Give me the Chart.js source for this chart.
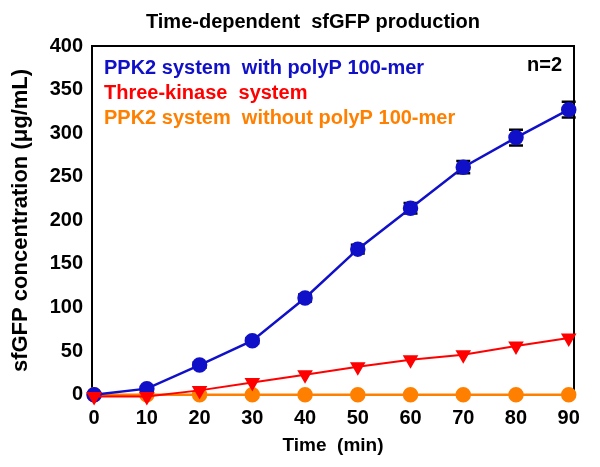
<!DOCTYPE html>
<html>
<head>
<meta charset="utf-8">
<script src="https://cdn.jsdelivr.net/npm/chart.js"></script>
<style>
html,body{margin:0;padding:0;background:#fff;}
#wrap{width:600px;height:467px;position:relative;}
</style>
</head>
<body>
<div id="wrap"><canvas id="c" width="600" height="467"></canvas></div>
<script>
const times = [0, 10, 20, 30, 40, 50, 60, 70, 80, 90];
const ppk2With = [0, 7, 34, 62, 111, 167, 214, 261, 295, 327];
const ppk2WithErr = [1, 2, 3, 3, 4, 5, 6, 7, 9, 9];
const threeKinase = [-2, -2, 5, 14, 23, 32, 40, 46, 56, 65];
const ppk2Without = [0, 0, 0, 0, 0, 0, 0, 0, 0, 0];
const yTicks = [0, 50, 100, 150, 200, 250, 300, 350, 400];
const xTicks = [0, 10, 20, 30, 40, 50, 60, 70, 80, 90];
const seriesNames = ['PPK2 system  with polyP 100-mer', 'Three-kinase  system', 'PPK2 system  without polyP 100-mer'];
const colors = ['#1010C8', '#FF0000', '#FF8000'];

const FONT = '"Liberation Sans", Arial, sans-serif';
const pts = arr => arr.map((v, i) => ({x: times[i], y: v}));

const overlay = {
  id: 'overlay',
  beforeDatasetsDraw(chart) {
    const ctx = chart.ctx, xs = chart.scales.x, ys = chart.scales.y, a = chart.chartArea;
    ctx.save();
    ctx.strokeStyle = '#000';
    ctx.lineWidth = 2;
    ctx.strokeRect(a.left, a.top, a.right - a.left, a.bottom - a.top);
    ctx.lineWidth = 2.5;
    times.forEach((t, i) => {
      const e = ppk2WithErr[i];
      const px = xs.getPixelForValue(t);
      const y1 = ys.getPixelForValue(ppk2With[i] + e);
      const y2 = ys.getPixelForValue(ppk2With[i] - e);
      ctx.beginPath();
      ctx.moveTo(px, y1); ctx.lineTo(px, y2);
      ctx.moveTo(px - 7, y1); ctx.lineTo(px + 7, y1);
      ctx.moveTo(px - 7, y2); ctx.lineTo(px + 7, y2);
      ctx.stroke();
    });
    ctx.restore();
  },
  afterDraw(chart) {
    const ctx = chart.ctx, a = chart.chartArea;
    ctx.save();
    ctx.fillStyle = '#000';
    ctx.font = 'bold 20px ' + FONT;
    ctx.textAlign = 'center';
    ctx.textBaseline = 'middle';
    ctx.fillText('Time-dependent  sfGFP production', 313, 22);
    ctx.textAlign = 'left';
    ctx.font = 'bold 20px ' + FONT;
    const ly = [68, 93, 118];
    seriesNames.forEach((n, i) => {
      ctx.fillStyle = colors[i];
      ctx.fillText(n, a.left + 12, ly[i]);
    });
    ctx.fillStyle = '#000';
    ctx.textAlign = 'right';
    ctx.fillText('n=2', a.right - 12, 65);
    ctx.restore();
  }
};

new Chart(document.getElementById('c'), {
  type: 'line',
  data: {
    datasets: [
      {label: seriesNames[0], data: pts(ppk2With), borderColor: colors[0], backgroundColor: colors[0],
        borderWidth: 2.5, pointRadius: 6.5, pointStyle: 'circle', order: 2},
      {label: seriesNames[1], data: pts(threeKinase), borderColor: colors[1], backgroundColor: colors[1],
        borderWidth: 2, pointRadius: 7, pointStyle: 'triangle', rotation: 180, order: 1},
      {label: seriesNames[2], data: pts(ppk2Without), borderColor: colors[2], backgroundColor: colors[2],
        borderWidth: 2.5, pointRadius: 6.5, pointStyle: 'circle', order: 3}
    ]
  },
  options: {
    responsive: false,
    animation: false,
    clip: false,
    layout: {padding: {top: 46, right: 26, left: 0, bottom: 0}},
    plugins: {legend: {display: false}, title: {display: false}, tooltip: {enabled: false}},
    elements: {line: {tension: 0}, point: {borderWidth: 1}},
    scales: {
      x: {
        type: 'linear', min: -0.4, max: 91,
        afterBuildTicks: s => { s.ticks = xTicks.map(v => ({value: v})); },
        afterFit: s => { s.height = 72; },
        grid: {display: false, drawTicks: false},
        border: {display: false},
        ticks: {color: '#000', font: {family: FONT, size: 20, weight: 'bold'}, padding: 11, maxRotation: 0, autoSkip: false},
        title: {display: true, text: 'Time  (min)', color: '#000', font: {family: FONT, size: 19, weight: 'bold'}, padding: {top: 0, bottom: 10}}
      },
      y: {
        type: 'linear', min: -0.3, max: 400,
        afterBuildTicks: s => { s.ticks = yTicks.map(v => ({value: v})); },
        afterFit: s => { s.width = 92; },
        grid: {display: false, drawOnChartArea: false, drawTicks: true, tickLength: 6, tickColor: '#000', tickWidth: 1.5},
        border: {display: true, color: '#000', width: 2},
        ticks: {color: '#000', font: {family: FONT, size: 20, weight: 'bold'}, padding: 3, autoSkip: false},
        title: {display: true, text: 'sfGFP concentration (μg/mL)', color: '#000', font: {family: FONT, size: 22, weight: 'bold'}, padding: {top: 8, bottom: 0}}
      }
    }
  },
  plugins: [overlay]
});
</script>
</body>
</html>
